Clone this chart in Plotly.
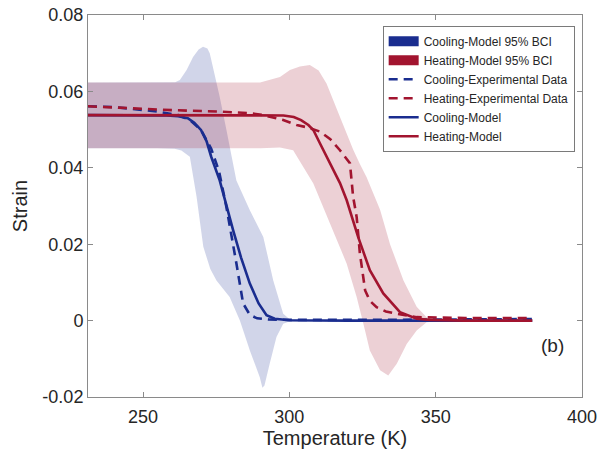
import plotly.graph_objects as go

# ---------------- data ----------------
cool_model_T = [231.2, 240, 250, 258, 262, 265.3, 267.5, 269.8, 271.7, 273.3, 276.2, 278.5, 280.8,
                283.5, 286.5, 289.5, 292.2, 295, 297.8, 300, 320, 350, 383]
cool_model_y = [0.0538, 0.0538, 0.0538, 0.0537, 0.0535, 0.0530, 0.0518, 0.0499, 0.0470, 0.0429,
                0.0367, 0.0300, 0.0236, 0.0165, 0.0097, 0.0045, 0.0014, 0.0005, 0.0002, 0.0001,
                0.0, 0.0, 0.0]

cool_exp_T = [231.2, 240, 248, 255, 262, 266, 269.8, 273.3, 276, 278.5, 281.9, 284.2, 286.5,
              289, 293, 300, 330, 360, 383]
cool_exp_y = [0.0561, 0.0559, 0.0553, 0.0547, 0.0538, 0.0525, 0.0499, 0.0450, 0.0390, 0.0297,
              0.0150, 0.0045, 0.0015, 0.0006, 0.0003, 0.0002, 0.0002, 0.0003, 0.0004]

heat_model_T = [231.2, 260, 290, 298, 301.5, 304, 306.5, 308.2, 310.4, 313.9, 317.3, 319.6,
                323.5, 327.5, 332.1, 337.8, 343.5, 348, 360, 383]
heat_model_y = [0.0538, 0.0538, 0.0538, 0.0537, 0.0533, 0.0525, 0.0512, 0.0499, 0.0465, 0.0411,
                0.0360, 0.0315, 0.0219, 0.0132, 0.0071, 0.0022, 0.0005, 0.0002, 0.0, 0.0]

heat_exp_T = [231.2, 245.9, 260, 276.7, 286.5, 291, 297.9, 302.5, 306, 310.4, 314, 317.3,
              320.7, 321.8, 323, 324.1, 325.9, 327.5, 329.8, 333, 336.6, 343.5, 360, 383]
heat_exp_y = [0.0561, 0.0555, 0.0551, 0.0547, 0.0543, 0.0538, 0.0525, 0.0512, 0.0506, 0.0495,
              0.0475, 0.0446, 0.0412, 0.0324, 0.0271, 0.0176, 0.0079, 0.0052, 0.0035, 0.0024,
              0.0018, 0.0009, 0.0007, 0.0007]

cool_bci_up_T = [231.2, 255, 261, 262.6, 264.9, 267.1, 269, 270.5, 272, 272.8, 274.5, 276.2,
                 278.5, 281.9, 286.5, 291.1, 294.5, 297.9, 300.2, 320, 383]
cool_bci_up_y = [0.0623, 0.0623, 0.0624, 0.0630, 0.0656, 0.0690, 0.0710, 0.0717, 0.0712, 0.0700,
                 0.0647, 0.0586, 0.0499, 0.0367, 0.0289, 0.0219, 0.0105, 0.0018, 0.0003, 0.0001,
                 0.0001]
cool_bci_lo_T = [231.2, 255, 260.8, 263.1, 266, 268.3, 270.6, 273, 275.1, 279.6, 283.1, 286.5,
                 289.9, 290.8, 291.5, 293.3, 295.6, 297.9, 300.2, 320, 383]
cool_bci_lo_y = [0.0451, 0.0451, 0.0450, 0.0445, 0.0429, 0.0324, 0.0193, 0.0135, 0.0105, 0.0062,
                 0.0, -0.0078, -0.0148, -0.0176, -0.0170, -0.0112, -0.0043, -0.0008, -0.0002,
                 -0.0001, -0.0001]

heat_bci_up_T = [231.2, 290, 296.8, 300.2, 303.6, 307, 310, 312.7, 317.3, 321.9, 324.1, 326.4,
                 331, 334.4, 339, 343.5, 346.9, 350.3, 383]
heat_bci_up_y = [0.0623, 0.0623, 0.0638, 0.0656, 0.0665, 0.0669, 0.0655, 0.0621, 0.0533, 0.0446,
                 0.0410, 0.0375, 0.0290, 0.0200, 0.0105, 0.0036, 0.0009, 0.0002, 0.0002]
heat_bci_lo_T = [231.2, 290, 296.8, 301.3, 308.2, 313.9, 319.6, 323, 325.3, 327.5, 331, 333.8,
                 336.7, 340.1, 343.5, 346.9, 350.3, 383]
heat_bci_lo_y = [0.0451, 0.0451, 0.0453, 0.0446, 0.0359, 0.0254, 0.0149, 0.0062, -0.0008,
                 -0.0078, -0.0130, -0.0144, -0.0113, -0.0061, -0.0026, -0.0004, -0.0002, -0.0002]

x_tickvals = [250, 300, 350, 400]
y_tickvals = [-0.02, 0, 0.02, 0.04, 0.06, 0.08]
y_ticktext = ["-0.02", "0", "0.02", "0.04", "0.06", "0.08"]

# ---------------- styles ----------------
BLUE = "#1a2d8f"
RED = "#a2142f"
BLUE_FILL = "rgba(26,45,143,0.2)"
RED_FILL = "rgba(162,20,47,0.2)"
FONT = "Liberation Sans, Arial, Helvetica, sans-serif"
TXT = "#262626"
AX = "#8a8a8a"
DASH = "9px,6px"
LW = 2.6

fig = go.Figure()

# bands (drawn first)
fig.add_trace(go.Scatter(x=cool_bci_up_T + cool_bci_lo_T[::-1],
                         y=cool_bci_up_y + cool_bci_lo_y[::-1],
                         fill="toself", fillcolor=BLUE_FILL, mode="lines",
                         line=dict(width=0), showlegend=False, hoverinfo="skip"))
fig.add_trace(go.Scatter(x=heat_bci_up_T + heat_bci_lo_T[::-1],
                         y=heat_bci_up_y + heat_bci_lo_y[::-1],
                         fill="toself", fillcolor=RED_FILL, mode="lines",
                         line=dict(width=0), showlegend=False, hoverinfo="skip"))

# legend proxies for the bands
fig.add_trace(go.Scatter(x=[None], y=[None], mode="lines", name="Cooling-Model 95% BCI",
                         line=dict(color=BLUE, width=12), legendrank=1))
fig.add_trace(go.Scatter(x=[None], y=[None], mode="lines", name="Heating-Model 95% BCI",
                         line=dict(color=RED, width=12), legendrank=2))

# lines
fig.add_trace(go.Scatter(x=cool_exp_T, y=cool_exp_y, mode="lines", name="Cooling-Experimental Data",
                         line=dict(color=BLUE, width=LW, dash=DASH), legendrank=3))
fig.add_trace(go.Scatter(x=heat_exp_T, y=heat_exp_y, mode="lines", name="Heating-Experimental Data",
                         line=dict(color=RED, width=LW, dash=DASH), legendrank=4))
fig.add_trace(go.Scatter(x=cool_model_T, y=cool_model_y, mode="lines", name="Cooling-Model",
                         line=dict(color=BLUE, width=LW), legendrank=5))
fig.add_trace(go.Scatter(x=heat_model_T, y=heat_model_y, mode="lines", name="Heating-Model",
                         line=dict(color=RED, width=LW), legendrank=6))

fig.add_annotation(x=390, y=-0.0065, text="(b)", showarrow=False,
                   font=dict(family=FONT, size=19, color=TXT))

fig.update_layout(
    width=602, height=463,
    margin=dict(l=88, r=20, t=15, b=66, autoexpand=False),
    paper_bgcolor="white", plot_bgcolor="white",
    font=dict(family=FONT, size=18, color=TXT),
    showlegend=True,
    legend=dict(x=0.5965, y=0.972, xanchor="left", yanchor="top",
                bgcolor="white", bordercolor="#7a7a7a", borderwidth=1,
                font=dict(family=FONT, size=12, color=TXT),
                tracegroupgap=0, itemwidth=30),
    xaxis=dict(range=[231.2, 400], tickvals=x_tickvals, showgrid=False, zeroline=False,
               automargin=False,
               showline=True, linecolor=AX, linewidth=1, mirror="ticks",
               ticks="inside", ticklen=5, tickcolor=AX, ticklabelstandoff=3,
               tickfont=dict(family=FONT, size=18, color=TXT),
               title=dict(text="Temperature (K)", font=dict(family=FONT, size=20, color=TXT),
                          standoff=0)),
    yaxis=dict(range=[-0.02, 0.08], tickvals=y_tickvals, ticktext=y_ticktext,
               showgrid=False, zeroline=False, automargin=False,
               showline=True, linecolor=AX, linewidth=1, mirror="ticks",
               ticks="inside", ticklen=5, tickcolor=AX,
               tickfont=dict(family=FONT, size=18, color=TXT),
               title=dict(text="Strain", font=dict(family=FONT, size=20, color=TXT),
                          standoff=9)),
)

fig.write_html("out.html")
